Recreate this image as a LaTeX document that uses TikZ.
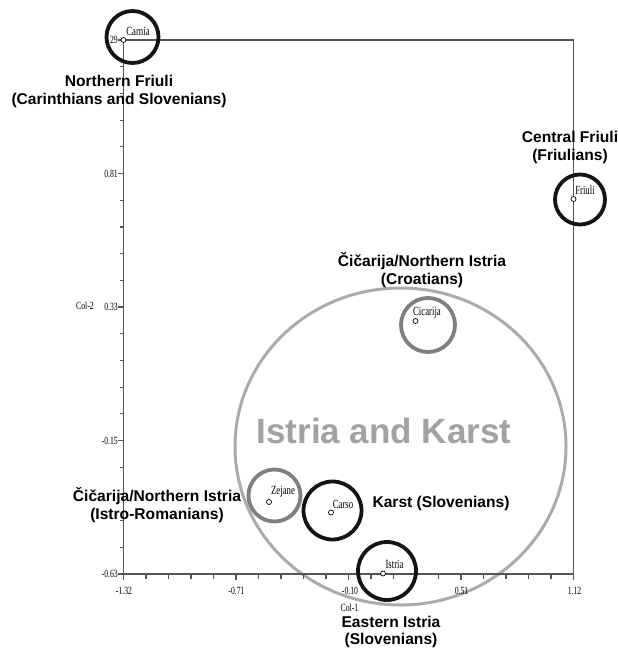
\documentclass[tikz,border=0pt]{standalone}
\usepackage{fontspec}
\setmainfont{Liberation Serif}
\newfontfamily\labsans{Liberation Sans}
\newfontfamily\condserif[FakeStretch=0.7]{Liberation Serif}
\definecolor{ringgray}{HTML}{7F7F7F}
\definecolor{biggray}{HTML}{ABABAB}
\definecolor{bigtext}{HTML}{A2A2A2}
\definecolor{axisgray}{HTML}{555555}
\begin{document}
\begin{tikzpicture}[x=1pt,y=-1pt,
  ptmark/.style={circle,draw=black,fill=white,line width=0.7pt,inner sep=0pt,minimum size=5pt},
  blackring/.style={circle,draw=black!92,line width=3.8pt,inner sep=0pt,minimum size=#1},
  grayring/.style={circle,draw=ringgray,line width=3.8pt,inner sep=0pt,minimum size=#1},
  grp/.style={font=\labsans\bfseries\fontsize{15.6}{17.5}\selectfont,align=center,inner sep=0pt},
  nm/.style={font=\condserif\fontsize{12.5}{13}\selectfont,inner sep=0pt},
  tk/.style={font=\condserif\fontsize{11}{12}\selectfont,inner sep=0pt},
  axisline/.style={draw=axisgray,line width=1.8pt},
  frameline/.style={draw=axisgray,line width=1.2pt},
  tickline/.style={draw=axisgray,line width=1.2pt}
]
\useasboundingbox[fill=white] (0,0) rectangle (618,648);

% big group ellipse
\draw[biggray,line width=3pt] (400.5,446.5) ellipse [x radius=165.5, y radius=158.5];
\node[font=\labsans\bfseries\fontsize{35}{40}\selectfont,text=bigtext,inner sep=0pt] (bigtitle) at (384,431) {Istria and Karst};

% frame and axes
\draw[frameline] (123.5,40) -- (573.5,40) -- (573.5,574);
\draw[axisline] (123.5,40) -- (123.5,574) -- (573.5,574);
\foreach \i in {0,...,20} {
  \pgfmathtruncatemacro{\m}{mod(\i,5)}
  \ifnum\m=0
    \draw[tickline] (123.5,{40+\i*26.7}) -- ++(-6,0);
    \draw[tickline] ({123.5+\i*22.5},574) -- ++(0,6);
  \else
    \draw[tickline] (123.5,{40+\i*26.7}) -- ++(-4,0);
    \draw[tickline] ({123.5+\i*22.5},574) -- ++(0,5);
  \fi
}
\node[tk,anchor=east] (y1) at (118,40) {29};
\node[tk,anchor=east] (y2) at (118,173.5) {0.81};
\node[tk,anchor=east] (y3) at (118,307) {0.33};
\node[tk,anchor=east] (y4) at (118,440.5) {-0.15};
\node[tk,anchor=east] (y5) at (118,574) {-0.63};
\node[tk] (x1) at (124,591) {-1.32};
\node[tk] (x2) at (236.5,591) {-0.71};
\node[tk] (x3) at (350,591) {-0.10};
\node[tk] (x4) at (461.5,591) {0.51};
\node[tk] (x5) at (574.5,591) {1.12};
\node[tk] (col2) at (85,306) {Col-2};
\node[tk] (col1) at (349.5,608) {Col-1};

% group rings
\node[blackring=52pt] (rcarnia) at (132.5,37) {};
\node[blackring=50pt] (rfriuli) at (580,199.5) {};
\node[grayring=54pt] (rcicarija) at (428,325) {};
\node[grayring=52pt] (rzejane) at (274.5,495.5) {};
\node[blackring=58pt] (rcarso) at (332.5,510.5) {};
\node[blackring=58pt] (ristria) at (387,571) {};

% points
\node[ptmark] (carnia) at (123.5,40) {};
\node[ptmark] (friuli) at (573.5,199) {};
\node[ptmark] (cicarija) at (415.5,321) {};
\node[ptmark] (zejane) at (269,502) {};
\node[ptmark] (carso) at (331,512.5) {};
\node[ptmark] (istria) at (383,573.5) {};

\node[nm] (lcarnia) at (138,31) {Carnia};
\node[nm] (lfriuli) at (585,190) {Friuli};
\node[nm] (lcicarija) at (427,313) {Cicarija};
\node[nm] (lzejane) at (283,492) {Zejane};
\node[nm] (lcarso) at (343,504) {Carso};
\node[nm] (listria) at (394.5,564) {Istria};

% group labels
\node[grp] (gnorth) at (119,91.5) {Northern Friuli\\(Carinthians and Slovenians)};
\node[grp] (gcentral) at (570,147.5) {Central Friuli\\(Friulians)};
\node[grp] (gcroat) at (422,270) {Čičarija/Northern Istria\\(Croatians)};
\node[grp] (gistro) at (157,505) {Čičarija/Northern Istria\\(Istro-Romanians)};
\node[grp] (gkarst) at (441,503) {Karst (Slovenians)};
\node[grp] (geast) at (391,632) {Eastern Istria\\(Slovenians)};
\end{tikzpicture}
\end{document}
